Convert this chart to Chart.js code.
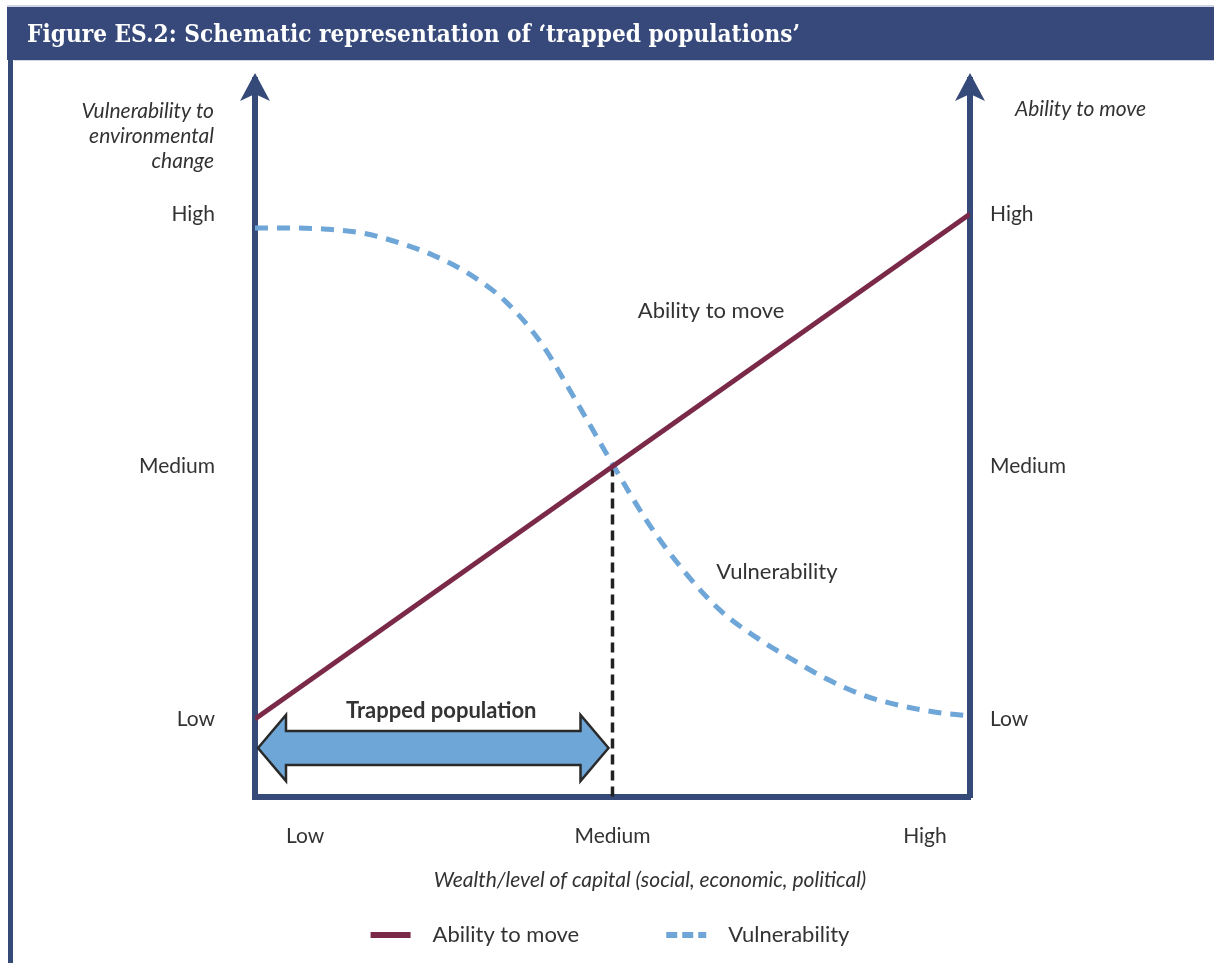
<!DOCTYPE html>
<html>
<head>
<meta charset="utf-8">
<title>Trapped populations</title>
<script src="https://cdn.jsdelivr.net/npm/chart.js@4.4.1/dist/chart.umd.min.js"></script>
<style>
  html, body { margin: 0; padding: 0; background: #fff; }
  #wrap { width: 1214px; height: 963px; }
</style>
</head>
<body>
<div id="wrap"><canvas id="trappedChart" width="1214" height="963"></canvas></div>
<script>
// wealth axis runs 0 (left axis) .. 10 (right axis); levels: 0 = Low, 1 = Medium, 2 = High
const wealthSteps = [0, 0.5, 1, 1.5, 2, 2.5, 3, 3.5, 4, 4.5, 5, 5.5, 6, 6.5, 7, 7.5, 8, 8.5, 9, 9.5, 10];
const vulnerability = [1.945, 1.945, 1.94, 1.925, 1.888, 1.836, 1.762, 1.655, 1.49, 1.255, 1.01, 0.776, 0.586, 0.432, 0.325, 0.238, 0.158, 0.095, 0.055, 0.028, 0.012];
const abilityWealth = [0, 10];
const abilityToMove = [0, 2];

const levelValues = [0, 1, 2];
const levelLabels = ['Low', 'Medium', 'High'];
const wealthTickValues = [0.7, 5, 9.37];
const wealthTickLabels = ['Low', 'Medium', 'High'];

const mediumWealth = 5;
const trappedRange = [0, 5];

const Y_MIN = -0.309;
const Y_MAX = 2.531;
const NAVY = '#354a78';
const MAROON = '#7b2948';
const BLUE = '#6fa6d8';
const TEXT = '#333333';
const FONT = 'Lato, "Open Sans", sans-serif';

function toPoints(xs, ys) {
    return xs.map(function (x, i) { return { x: x, y: ys[i] }; });
}

function arrowHead(ctx, x, tipY) {
    ctx.beginPath();
    ctx.moveTo(x, tipY);
    ctx.lineTo(x + 15, tipY + 28);
    ctx.lineTo(x, tipY + 21);
    ctx.lineTo(x - 15, tipY + 28);
    ctx.closePath();
    ctx.fillStyle = NAVY;
    ctx.fill();
}

const decor = {
    id: 'decor',
    beforeDraw(chart) {
        const ctx = chart.ctx;
        ctx.save();
        // header band
        ctx.fillStyle = '#cfd6e2';
        ctx.fillRect(7, 5, 1207, 2);
        ctx.fillStyle = '#36497a';
        ctx.fillRect(7, 7, 1207, 53);
        ctx.fillStyle = '#cfd6e2';
        ctx.fillRect(14, 60, 1200, 1);
        // left frame
        ctx.fillStyle = NAVY;
        ctx.fillRect(8, 60, 5, 903);
        // title
        const title = 'Figure ES.2: Schematic representation of \u2018trapped populations\u2019';
        ctx.font = 'bold 24px "DejaVu Serif", serif';
        const w = ctx.measureText(title).width;
        ctx.translate(27, 42);
        ctx.scale(773 / w, 1);
        ctx.fillStyle = '#ffffff';
        ctx.textBaseline = 'alphabetic';
        ctx.fillText(title, 0, 0);
        ctx.restore();
    },
    afterDatasetsDraw(chart) {
        const ctx = chart.ctx;
        const area = chart.chartArea;
        const xs = chart.scales.x;
        const ys = chart.scales.y;
        ctx.save();
        arrowHead(ctx, area.left, 73);
        arrowHead(ctx, area.right, 73);

        // trapped population double arrow
        const x0 = xs.getPixelForValue(trappedRange[0]) + 3;
        const x1 = xs.getPixelForValue(trappedRange[1]) - 4;
        const cy = ys.getPixelForValue(-0.115);
        const head = 28, hh = 33, sh = 17;
        ctx.beginPath();
        ctx.moveTo(x0, cy);
        ctx.lineTo(x0 + head, cy - hh);
        ctx.lineTo(x0 + head, cy - sh);
        ctx.lineTo(x1 - head, cy - sh);
        ctx.lineTo(x1 - head, cy - hh);
        ctx.lineTo(x1, cy);
        ctx.lineTo(x1 - head, cy + hh);
        ctx.lineTo(x1 - head, cy + sh);
        ctx.lineTo(x0 + head, cy + sh);
        ctx.lineTo(x0 + head, cy + hh);
        ctx.closePath();
        ctx.fillStyle = BLUE;
        ctx.fill();
        ctx.lineWidth = 2.5;
        ctx.lineJoin = 'miter';
        ctx.strokeStyle = '#2a2a2a';
        ctx.stroke();

        ctx.fillStyle = TEXT;
        ctx.textAlign = 'center';
        ctx.textBaseline = 'middle';
        ctx.font = 'bold 22px ' + FONT;
        ctx.fillText('Trapped population', (x0 + x1) / 2 + 8, cy - 37);

        // curve labels
        ctx.font = '22px ' + FONT;
        ctx.fillText('Ability to move', xs.getPixelForValue(6.38), ys.getPixelForValue(1.616));
        ctx.fillText('Vulnerability', xs.getPixelForValue(7.3), ys.getPixelForValue(0.582));
        ctx.restore();
    },
    afterDraw(chart) {
        const ctx = chart.ctx;
        ctx.save();
        ctx.fillStyle = TEXT;
        ctx.textBaseline = 'middle';
        ctx.font = 'italic 21px ' + FONT;
        ctx.textAlign = 'right';
        ['Vulnerability to', 'environmental', 'change'].forEach(function (line, i) {
            ctx.fillText(line, 214, 111 + i * 25);
        });
        ctx.textAlign = 'left';
        ctx.fillText('Ability to move', 1015, 109);
        ctx.textAlign = 'center';
        ctx.fillText('Wealth/level of capital (social, economic, political)', 650, 880);

        // legend
        const items = chart.data.datasets.filter(function (d) { return d.label; });
        ctx.font = '22px ' + FONT;
        const sample = 40, gapText = 22, gapItem = 87;
        let total = 0;
        items.forEach(function (d, i) {
            total += sample + gapText + ctx.measureText(d.label).width + (i ? gapItem : 0);
        });
        let x = 610 - total / 2;
        const y = 935;
        items.forEach(function (d) {
            ctx.beginPath();
            ctx.setLineDash(d.borderDash ? [11, 5] : []);
            ctx.lineWidth = 6;
            ctx.strokeStyle = d.borderColor;
            ctx.moveTo(x, y);
            ctx.lineTo(x + sample, y);
            ctx.stroke();
            ctx.setLineDash([]);
            ctx.textAlign = 'left';
            ctx.fillText(d.label, x + sample + gapText, y);
            x += sample + gapText + ctx.measureText(d.label).width + gapItem;
        });
        ctx.restore();
    }
};

const levelTicks = {
    color: TEXT,
    font: { family: FONT, size: 21 },
    callback: function (v, i) { return levelLabels[i]; }
};

new Chart(document.getElementById('trappedChart'), {
    type: 'line',
    data: {
        datasets: [{
            label: 'Ability to move',
            data: toPoints(abilityWealth, abilityToMove),
            borderColor: MAROON,
            borderWidth: 5,
            pointRadius: 0
        }, {
            label: 'Vulnerability',
            data: toPoints(wealthSteps, vulnerability),
            borderColor: BLUE,
            borderWidth: 5,
            borderDash: [13, 9],
            cubicInterpolationMode: 'monotone',
            pointRadius: 0
        }, {
            label: '',
            data: [{ x: mediumWealth, y: 1 }, { x: mediumWealth, y: Y_MIN }],
            borderColor: '#222222',
            borderWidth: 3.5,
            borderDash: [10, 6],
            pointRadius: 0
        }]
    },
    options: {
        responsive: false,
        animation: false,
        layout: { padding: { top: 80, left: 0, right: 0, bottom: 0 } },
        plugins: {
            legend: { display: false },
            tooltip: { enabled: false }
        },
        scales: {
            x: {
                type: 'linear',
                min: 0,
                max: 10,
                grid: { display: false },
                border: { display: true, color: NAVY, width: 6 },
                afterBuildTicks: function (s) { s.ticks = wealthTickValues.map(function (v) { return { value: v }; }); },
                afterFit: function (s) { s.height = 166; },
                ticks: {
                    padding: 19,
                    maxRotation: 0,
                    autoSkip: false,
                    color: TEXT,
                    font: { family: FONT, size: 21 },
                    callback: function (v, i) { return wealthTickLabels[i]; }
                }
            },
            y: {
                position: 'left',
                min: Y_MIN,
                max: Y_MAX,
                grid: { display: false },
                border: { display: true, color: NAVY, width: 6 },
                afterBuildTicks: function (s) { s.ticks = levelValues.map(function (v) { return { value: v }; }); },
                afterFit: function (s) { s.width = 255; },
                ticks: Object.assign({ padding: 32 }, levelTicks)
            },
            y2: {
                position: 'right',
                min: Y_MIN,
                max: Y_MAX,
                grid: { display: false },
                border: { display: true, color: NAVY, width: 6 },
                afterBuildTicks: function (s) { s.ticks = levelValues.map(function (v) { return { value: v }; }); },
                afterFit: function (s) { s.width = 244; },
                ticks: Object.assign({ padding: 12 }, levelTicks)
            }
        }
    },
    plugins: [decor]
});
</script>
</body>
</html>
